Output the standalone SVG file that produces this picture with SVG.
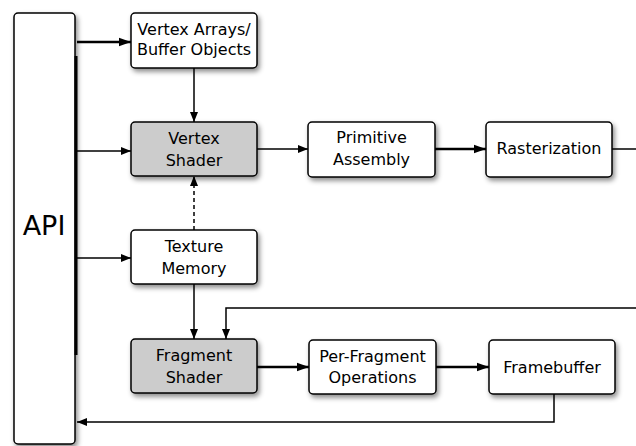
<svg xmlns="http://www.w3.org/2000/svg" width="636" height="446" viewBox="0 0 636 446">
<defs>
<filter id="sh" x="-20%" y="-20%" width="150%" height="160%">
<feDropShadow dx="2" dy="3" stdDeviation="2.5" flood-color="#000" flood-opacity="0.45"/>
</filter>
<marker id="ah" viewBox="0 0 10 10" refX="10" refY="5" markerWidth="10" markerHeight="10" markerUnits="userSpaceOnUse" orient="auto">
<path d="M0,1 L10,5 L0,9 Z" fill="#000"/>
</marker>
<marker id="ahb" viewBox="0 0 10 10" refX="10" refY="5" markerWidth="12" markerHeight="12" markerUnits="userSpaceOnUse" orient="auto">
<path d="M0,1.5 L10,5 L0,8.5 Z" fill="#000"/>
</marker>
</defs>
<style>
.box{fill:#fff;stroke:#000;stroke-width:1.5;filter:url(#sh)}
.gray{fill:#cccccc}
text{font-family:"DejaVu Sans","Liberation Sans",sans-serif;font-size:16px;fill:#000;text-anchor:middle}
.c{fill:none;stroke:#000;stroke-width:1.5}
.t{stroke-width:2.6}
</style>
<rect width="636" height="446" fill="#fff"/>
<g id="api">
<rect class="box" x="14" y="13" width="61" height="431" rx="4"/>
<line x1="76" y1="56" x2="76" y2="355" stroke="#000" stroke-width="3"/>
<text x="44" y="235" style="font-size:27px">API</text>
</g>
<g id="vertex-arrays">
<rect class="box" x="131" y="13" width="126" height="55" rx="4"/>
<text x="194" y="35">Vertex Arrays/</text>
<text x="194" y="55">Buffer Objects</text>
</g>
<g id="vertex-shader">
<rect class="box gray" x="131" y="122" width="126" height="54" rx="4"/>
<text x="194" y="144">Vertex</text>
<text x="194" y="166">Shader</text>
</g>
<g id="primitive-assembly">
<rect class="box" x="308" y="122" width="127" height="55" rx="4"/>
<text x="371.5" y="143">Primitive</text>
<text x="371.5" y="165">Assembly</text>
</g>
<g id="rasterization">
<rect class="box" x="486" y="122" width="126" height="55" rx="4"/>
<text x="549" y="154">Rasterization</text>
</g>
<g id="texture-memory">
<rect class="box" x="131" y="230" width="126" height="54" rx="4"/>
<text x="194" y="252">Texture</text>
<text x="194" y="274">Memory</text>
</g>
<g id="fragment-shader">
<rect class="box gray" x="131" y="339" width="126" height="54" rx="4"/>
<text x="194" y="361">Fragment</text>
<text x="194" y="383">Shader</text>
</g>
<g id="per-fragment">
<rect class="box" x="309" y="340" width="127" height="54" rx="4"/>
<text x="372.5" y="362">Per-Fragment</text>
<text x="372.5" y="383">Operations</text>
</g>
<g id="framebuffer">
<rect class="box" x="489" y="340" width="126" height="54" rx="4"/>
<text x="552" y="373">Framebuffer</text>
</g>
<g id="connectors">
<line class="c t" x1="77" y1="42" x2="131" y2="42" marker-end="url(#ahb)"/>
<line class="c" x1="77" y1="151" x2="131" y2="151" marker-end="url(#ah)"/>
<line class="c" x1="77" y1="258" x2="131" y2="258" marker-end="url(#ah)"/>
<line class="c" x1="194" y1="68" x2="194" y2="122" marker-end="url(#ah)"/>
<line class="c" x1="194" y1="230" x2="194" y2="176" stroke-dasharray="4,3" marker-end="url(#ah)"/>
<line class="c" x1="194" y1="284" x2="194" y2="339" marker-end="url(#ah)"/>
<line class="c" x1="257" y1="149" x2="308" y2="149" marker-end="url(#ah)"/>
<line class="c t" x1="435" y1="149" x2="486" y2="149" marker-end="url(#ahb)"/>
<line class="c" x1="612" y1="149" x2="636" y2="149"/>
<polyline class="c" points="636,308 226,308 226,339" marker-end="url(#ah)"/>
<line class="c t" x1="257" y1="367" x2="309" y2="367" marker-end="url(#ahb)"/>
<line class="c t" x1="436" y1="367" x2="489" y2="367" marker-end="url(#ahb)"/>
<polyline class="c" points="554,394 554,422 77,422" marker-end="url(#ah)"/>
</g>
</svg>
